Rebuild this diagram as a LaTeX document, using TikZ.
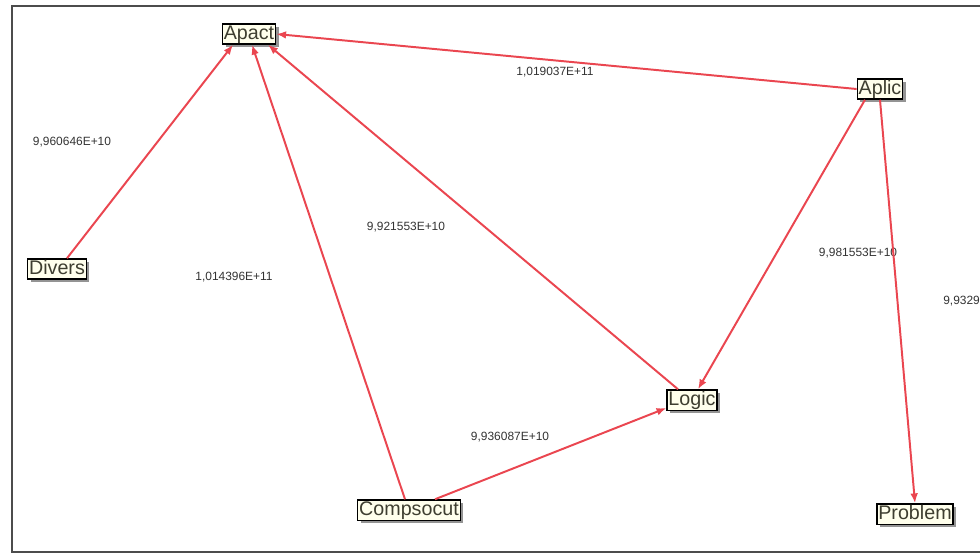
\documentclass[tikz,border=0pt]{standalone}
\usepackage{fontspec}
\setmainfont{Liberation Sans}
\usepackage{tikz}
\usetikzlibrary{arrows.meta,calc,positioning,shadows}

\definecolor{linkred}{RGB}{234,70,80}
\definecolor{boxfill}{RGB}{255,255,236}
\definecolor{boxtext}{RGB}{62,62,48}

\begin{document}
\begin{tikzpicture}[
	x=0.025cm, y=-0.025cm,
	box/.style={draw=black, line width=0.9pt, fill=boxfill, text=boxtext, inner xsep=1pt, inner ysep=0.8pt,
		text height=10pt, text depth=2.8pt, font=\fontsize{14}{15}\selectfont,
		drop shadow={fill=black!60, shadow xshift=2.2pt, shadow yshift=-2.2pt, opacity=0.7}},
	lab/.style={inner sep=0pt, text=black!80, font=\fontsize{8.5}{9}\selectfont},
	link/.style={draw=linkred, line width=1.4pt, -{Latex[length=7pt,width=5.5pt]}}
	]
	\useasboundingbox (0,0) rectangle (980,554);
	\draw[line width=1.3pt, draw=black!70] (980,6) -- (12,6) -- (12,552) -- (980,552);

	% weights
	\node[lab] (w1) at (72,142) {9,960646E+10};
	\node[lab] (w2) at (555,72) {1,019037E+11};
	\node[lab] (w3) at (406,227) {9,921553E+10};
	\node[lab] (w4) at (234,277) {1,014396E+11};
	\node[lab] (w5) at (858,253) {9,981553E+10};
	\node[lab, anchor=west] (w6) at (943,301) {9,9329};
	\node[lab] (w7) at (510,437) {9,936087E+10};

	% terms
	\node[box] (apact) at (249,34) {Apact};
	\node[box] (aplic) at (880,89) {Aplic};
	\node[box] (divers) at (57,269) {Divers};
	\node[box] (logic) at (692,400) {Logic};
	\node[box] (compsocut) at (409,510) {Compsocut};
	\node[box] (problem) at (915,514) {Problem};

	\draw[link] ([xshift=0.25cm]divers.north) -- ([xshift=-0.4cm]apact.south);
	\draw[link] ([xshift=-0.1cm]compsocut.north) -- ([xshift=0.075cm]apact.south);
	\draw[link] ([xshift=-0.35cm]logic.north) -- ([xshift=0.475cm]apact.south);
	\draw[link] (aplic.west) -- (apact.east);
	\draw[link] ([xshift=-0.375cm]aplic.south) -- ([xshift=0.15cm]logic.north);
	\draw[link] (aplic.south) -- (problem.north);
	\draw[link] ([xshift=0.65cm]compsocut.north) -- ([yshift=-0.2cm]logic.west);
\end{tikzpicture}
\end{document}
